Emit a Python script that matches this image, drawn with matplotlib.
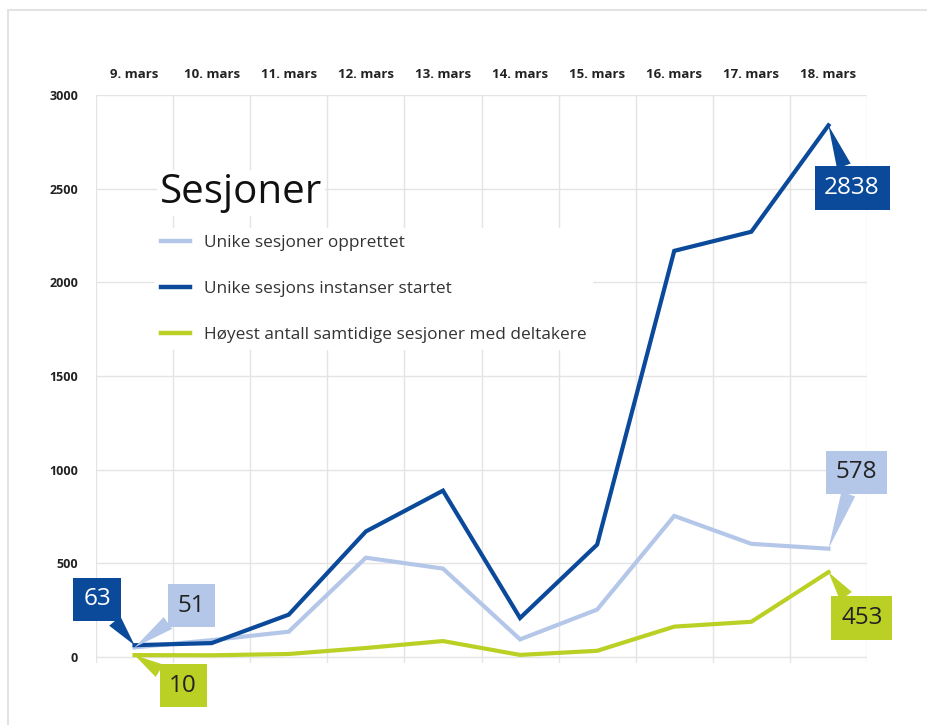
import matplotlib.pyplot as plt
from matplotlib.patches import Rectangle

# data
dager = ['9. mars', '10. mars', '11. mars', '12. mars', '13. mars',
         '14. mars', '15. mars', '16. mars', '17. mars', '18. mars']
opprettet = [51, 90, 135, 530, 472, 94, 253, 753, 604, 578]
startet = [63, 74, 226, 670, 888, 208, 600, 2168, 2270, 2838]
samtidige = [10, 9, 16, 48, 85, 11, 33, 162, 188, 453]

navn = ['Unike sesjoner opprettet',
        'Unike sesjons instanser startet',
        'Høyest antall samtidige sesjoner med deltakere']

lys = '#b4c7e8'
mork = '#0b4a9b'
gronn = '#bbd024'

plt.rcParams['font.family'] = ['Open Sans', 'DejaVu Sans']

fig = plt.figure(figsize=(9.28, 7.25), dpi=100)
ax = fig.add_axes([96/928, (725-662.6)/725, 771/928, (662.6-95)/725])

x = range(len(dager))
ax.plot(x, opprettet, color=lys, lw=3, label=navn[0], solid_joinstyle='miter', zorder=3)
ax.plot(x, startet, color=mork, lw=3, label=navn[1], solid_joinstyle='miter', zorder=4)
ax.plot(x, samtidige, color=gronn, lw=3, label=navn[2], solid_joinstyle='miter', zorder=3)

ax.set_xlim(-0.5, 9.5)
ax.set_ylim(-30, 3000)
ax.set_yticks(range(0, 3001, 500))
ax.set_xticks(list(x))
ax.set_xticklabels(dager)
ax.set_xticks([i - 0.5 for i in range(11)], minor=True)
ax.xaxis.tick_top()
ax.tick_params(axis='x', which='major', length=0, pad=10, labelsize=9.5)
ax.tick_params(axis='x', which='minor', length=0)
ax.tick_params(axis='y', length=0, pad=13, labelsize=9)
for lab in ax.get_xticklabels() + ax.get_yticklabels():
    lab.set_fontweight('bold')
    lab.set_color('#222222')
ax.grid(axis='x', which='minor', color='#e4e4e4', lw=1)
ax.grid(axis='y', which='major', color='#e4e4e4', lw=1)
ax.set_axisbelow(True)
for s in ax.spines.values():
    s.set_visible(False)

# title and legend
ax.text(0.083, 0.828, 'Sesjoner', transform=ax.transAxes, fontsize=29,
        color='#111111', va='center', ha='left',
        bbox=dict(fc='white', ec='none', pad=2), zorder=5)
leg = ax.legend(loc='upper left', bbox_to_anchor=(0.075, 0.765), frameon=True,
                fontsize=12.4, handlelength=1.7, handletextpad=0.8,
                labelspacing=1.72, borderpad=0.4, borderaxespad=0)
leg.get_frame().set_facecolor('white')
leg.get_frame().set_edgecolor('none')
leg.get_frame().set_alpha(1)
for t in leg.get_texts():
    t.set_color('#333333')
for h in leg.get_lines():
    h.set_linewidth(3.2)
leg.set_zorder(5)

# callouts
def callout(i, y, offset, fc, tc):
    ax.annotate(str(y), xy=(i, y), xytext=offset, textcoords='offset points',
                ha='center', va='center', fontsize=17.5, color=tc,
                bbox=dict(boxstyle='square,pad=0.4', fc=fc, ec='none'),
                arrowprops=dict(arrowstyle='wedge,tail_width=0.6,shrink_factor=0.5',
                                fc=fc, ec='none', shrinkA=0, shrinkB=0),
                zorder=6)

callout(0, startet[0], (-27, 33), mork, 'white')
callout(0, opprettet[0], (41, 30), lys, '#222222')
callout(0, samtidige[0], (35, -22), gronn, '#222222')
callout(9, startet[9], (17, -45), mork, 'white')
callout(9, opprettet[9], (20, 55), lys, '#222222')
callout(9, samtidige[9], (24, -33), gronn, '#222222')

fig.patches.append(Rectangle((8/928, -0.1), 1.2, (725-10)/725 + 0.1,
                             transform=fig.transFigure, fill=False,
                             ec='#e3e3e3', lw=1.5))

fig.savefig('out.png', dpi=100)
